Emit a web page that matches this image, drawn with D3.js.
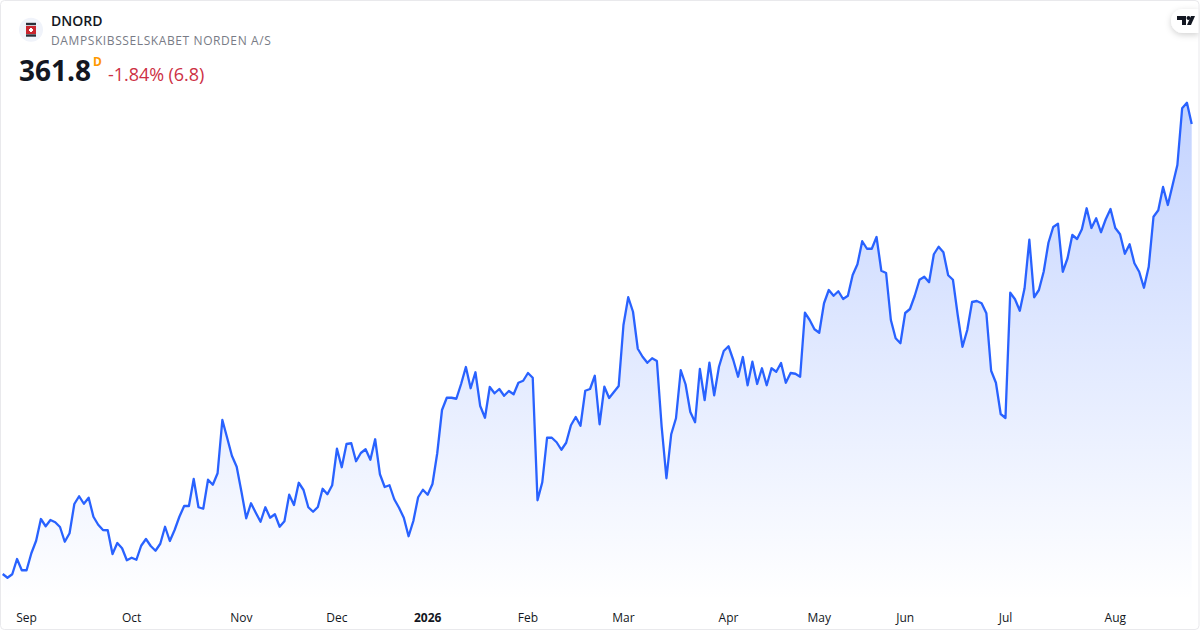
<!DOCTYPE html>
<html>
<head>
<meta charset="utf-8">
<script src="https://cdn.jsdelivr.net/npm/d3@7"></script>
<style>
html,body{margin:0;padding:0;background:#fff;}
svg{display:block;font-family:"Open Sans",sans-serif;}
.tick text{font-family:"Open Sans",sans-serif;}
</style>
</head>
<body>
<svg id="chart" width="1200" height="630"></svg>
<script>
const symbol = "DNORD";
const company = "DAMPSKIBSSELSKABET NORDEN A/S";
const lastPrice = "361.8";
const interval = "D";
const change = "-1.84% (6.8)";

const tickIndex = [5, 27, 50, 70, 89, 110, 130, 152, 171, 189, 210, 233];
const tickNames = ["Sep", "Oct", "Nov", "Dec", "2026", "Feb", "Mar", "Apr", "May", "Jun", "Jul", "Aug"];

const prices = [
181.8,180.3,181.7,187.8,183.3,183.3,190.1,195.1,203.8,200.9,
203.4,202.5,200.6,194.7,198.1,209.8,212.9,209.9,212.3,204.7,
201.5,199.4,199.3,189.8,194.2,192.1,187.3,188.3,187.5,193.1,
195.8,193,191.1,193.9,200.7,195,199.4,204.7,209,209,
219.8,208.5,207.9,219.5,217.5,222.1,243.4,236.3,229.1,224.7,
214.7,204.1,210.1,206.3,202.7,208.5,204.3,205.7,200.7,202.9,
213.5,209.4,218.3,215.4,208.5,206.7,208.6,215.9,213.7,217.3,
231.9,224.5,233.8,234.1,226.9,230.2,231.7,227.5,235.7,221.7,
216.6,217.3,211.7,208.3,204.3,196.9,203,212.5,215.5,213.5,
217.8,230.1,247.4,252.3,252.3,251.9,257.8,264.6,256.1,262.5,
249,244.3,256.6,254.1,255.8,253.1,255,253.7,258.3,259.1,
262.2,260.3,211.3,218.5,236.3,236.3,234.5,231.5,234.3,241.3,
244.6,241.1,255.1,255.8,261.1,241.7,256.7,252.2,254.6,257,
281.4,292.5,286.7,271.9,268.7,266.3,268.1,267,240.7,220.1,
237.7,244.1,263.3,257.7,246.6,242.5,263.8,251.4,266.3,253.3,
264.7,271,272.9,267.4,260.7,268.6,257.3,266.7,257.8,264.1,
257.3,264.1,262.7,266.2,258.3,262.2,261.9,260.7,286.3,283.4,
279.7,278.3,290.1,295.4,293.1,294.9,291.8,293.1,301.4,305.7,
314.9,311.9,311.9,316.6,303.1,302.2,283.4,276.1,274.1,286.2,
287.8,293.1,299.5,300.7,298.5,309.7,312.7,310.5,301.3,299.5,
285.4,272.7,279.4,290.6,291,290.1,286.1,263.1,258.3,245.8,
244.2,294.3,291.7,287.1,296.1,315.5,292.5,295.4,302.7,314.3,
320.6,321.9,302.7,308.1,317.4,315.8,319.7,328.1,320.2,324.1,
318.5,323.7,327.8,320.2,317.7,309.9,313.7,306.1,302.7,296.3,
304.7,324.7,327.3,336.6,329.4,337.4,345.4,368.1,370.3,361.8
];

const W = 1200, H = 630;
const svg = d3.select("#chart");

const x = d3.scaleLinear().domain([0, prices.length - 1]).range([2.7, 1191.7]);
const y = d3.scaleLinear().domain([159.4, 411.4]).range([630, 0]);
const baseY = 600;

const defs = svg.append("defs");
const grad = defs.append("linearGradient").attr("id", "fill")
  .attr("gradientUnits", "userSpaceOnUse")
  .attr("x1", 0).attr("x2", 0).attr("y1", y(d3.max(prices))).attr("y2", baseY);
grad.append("stop").attr("offset", 0).attr("stop-color", "#2962ff").attr("stop-opacity", 0.28);
grad.append("stop").attr("offset", 1).attr("stop-color", "#2962ff").attr("stop-opacity", 0);
const shadow = defs.append("filter").attr("id", "shadow")
  .attr("x", "-50%").attr("y", "-50%").attr("width", "200%").attr("height", "200%");
shadow.append("feDropShadow").attr("dx", 0).attr("dy", 2).attr("stdDeviation", 3)
  .attr("flood-color", "#000").attr("flood-opacity", 0.18);

svg.append("path").datum(prices)
  .attr("fill", "url(#fill)")
  .attr("d", d3.area().x((d, i) => x(i)).y0(baseY).y1(d => y(d)));

svg.append("path").datum(prices)
  .attr("fill", "none")
  .attr("stroke", "#2962ff")
  .attr("stroke-width", 2.3)
  .attr("stroke-linejoin", "round")
  .attr("stroke-linecap", "butt")
  .attr("d", d3.line().x((d, i) => x(i)).y(d => y(d)));

const axis = d3.axisBottom(x)
  .tickValues(tickIndex)
  .tickSize(0)
  .tickPadding(0)
  .tickFormat((d, i) => tickNames[i]);
const gx = svg.append("g").attr("transform", "translate(-0.5,613)").call(axis);
gx.select(".domain").remove();
gx.selectAll(".tick line").remove();
gx.selectAll(".tick text")
  .attr("y", 0).attr("dy", "0.71em")
  .attr("fill", "#131722")
  .style("font-size", "12px")
  .style("font-weight", (d, i) => tickNames[i] === "2026" ? 700 : 400);

// header
svg.append("circle").attr("cx", 31).attr("cy", 29.7).attr("r", 12).attr("fill", "#f0f3fa");
svg.append("rect").attr("x", 26).attr("y", 22.8).attr("width", 10).attr("height", 2.4).attr("fill", "#2a2e39");
svg.append("rect").attr("x", 26).attr("y", 26).attr("width", 10).attr("height", 8).attr("fill", "#c9252f");
svg.append("rect").attr("x", 26).attr("y", 34.3).attr("width", 10).attr("height", 2.4).attr("fill", "#2a2e39");
svg.append("rect").attr("x", 29).attr("y", 29).attr("width", 4).attr("height", 2).attr("fill", "#fff");
svg.append("rect").attr("x", 30).attr("y", 28).attr("width", 2).attr("height", 4).attr("fill", "#fff");

svg.append("text").attr("x", 51).attr("y", 26).attr("fill", "#131722")
  .style("font-size", "14px").style("font-weight", 600).text(symbol);
svg.append("text").attr("x", 51).attr("y", 45).attr("fill", "#787b86")
  .style("font-size", "12px").style("letter-spacing", "0.6px").text(company);
svg.append("text").attr("x", 19).attr("y", 81).attr("fill", "#131722")
  .style("font-size", "28px").style("font-weight", 700).text(lastPrice);
svg.append("text").attr("x", 93).attr("y", 66).attr("fill", "#ff9800")
  .style("font-size", "12px").style("font-weight", 700).text(interval);
svg.append("text").attr("x", 108).attr("y", 81).attr("fill", "#cd3045")
  .style("font-size", "18px").style("letter-spacing", "-0.05px").text(change);

// logo badge
svg.append("path")
  .attr("d", "M1199 9H1183a12 12 0 0 0 0 24H1199Z")
  .attr("fill", "#fff").attr("filter", "url(#shadow)");
const logo = svg.append("g").attr("fill", "#131722");
logo.append("path").attr("d", "M1177 16H1186V25H1182V20H1177Z");
logo.append("circle").attr("cx", 1188.5).attr("cy", 18).attr("r", 2);
logo.append("path").attr("d", "M1191 16H1195L1191 25H1187Z");

// frame
svg.append("rect").attr("x", 0.5).attr("y", 0.5).attr("width", W - 1.5).attr("height", H - 1)
  .attr("rx", 4).attr("fill", "none").attr("stroke", "#e9e9ec").attr("stroke-width", 1);
</script>
</body>
</html>
